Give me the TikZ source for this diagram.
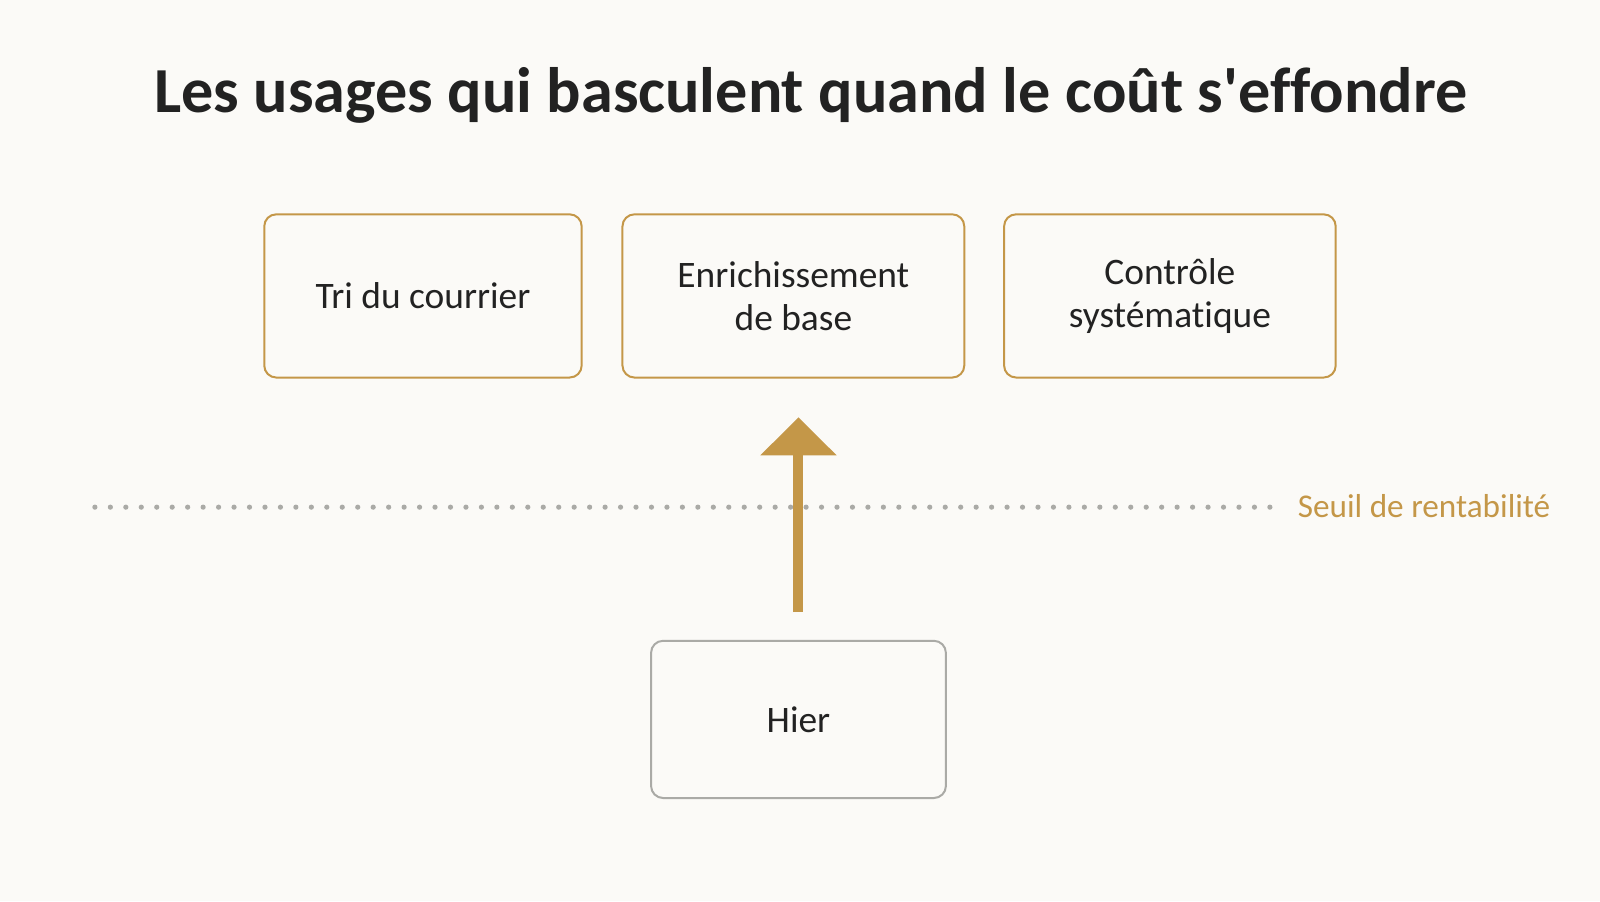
\documentclass[tikz,border=0pt]{standalone}
\usepackage{fontspec}
\newfontfamily\slidefont{Carlito}[Ligatures=NoCommon]
\usetikzlibrary{arrows.meta, positioning}
\definecolor{paper}{RGB}{251,250,247}
\definecolor{gold}{RGB}{196,151,72}
\definecolor{ink}{RGB}{34,34,34}
\definecolor{greyline}{RGB}{170,170,166}
\tikzset{x=0.5102pt, y=-0.5102pt, % one unit = one pixel of the slide
usage/.style={ % the boxes above the threshold
draw=gold, line width=1pt,
rounded corners=6pt,
fill=paper, text=ink,
minimum height=81.6pt,
align=center,
font=\slidefont\fontsize{18.7}{21.5}\selectfont},
past/.style={ % the box below the threshold
usage, draw=greyline},
threshold/.style={ % dotted break-even line
greyline, line width=2.6pt, line cap=round,
dash pattern=on 0pt off 7.73pt}}

\begin{document}
\begin{tikzpicture}

    \fill[paper] (0,0) rectangle (1568,883);
    \useasboundingbox (0,0) rectangle (1568,883);

    \node[anchor=base, text=ink, font=\slidefont\bfseries\fontsize{32.1}{38}\selectfont] (title) at (794.5,110) {Les usages qui basculent quand le coût s'effondre};

    \node[usage, minimum width=158.7pt] (tri) at (414.5,290) {Tri du courrier};
    \node[usage, minimum width=170.9pt] (enrich) at (777.5,290) {Enrichissement\\de base};
    \node[usage, minimum width=165.8pt] (controle) at (1146.5,290) {Contrôle\\systématique};

    \node[past, minimum width=147.4pt, minimum height=78.6pt] (hier) at (782.5,705) {Hier};

    \coordinate (seuilA) at (93,497);
    \coordinate (seuilB) at (1246,497);
    \draw[threshold] (seuilA) -- (seuilB);
    \node[anchor=base west, text=gold, font=\slidefont\fontsize{16.6}{20}\selectfont] (seuil) at (1265,507) {Seuil de rentabilité};

    \draw[gold, line width=5pt, -{Triangle[width=37pt, length=19pt]},
          shorten <=13.8pt, shorten >=19.4pt] (hier.north) -- (hier.north |- enrich.south);

\end{tikzpicture}
\end{document}
